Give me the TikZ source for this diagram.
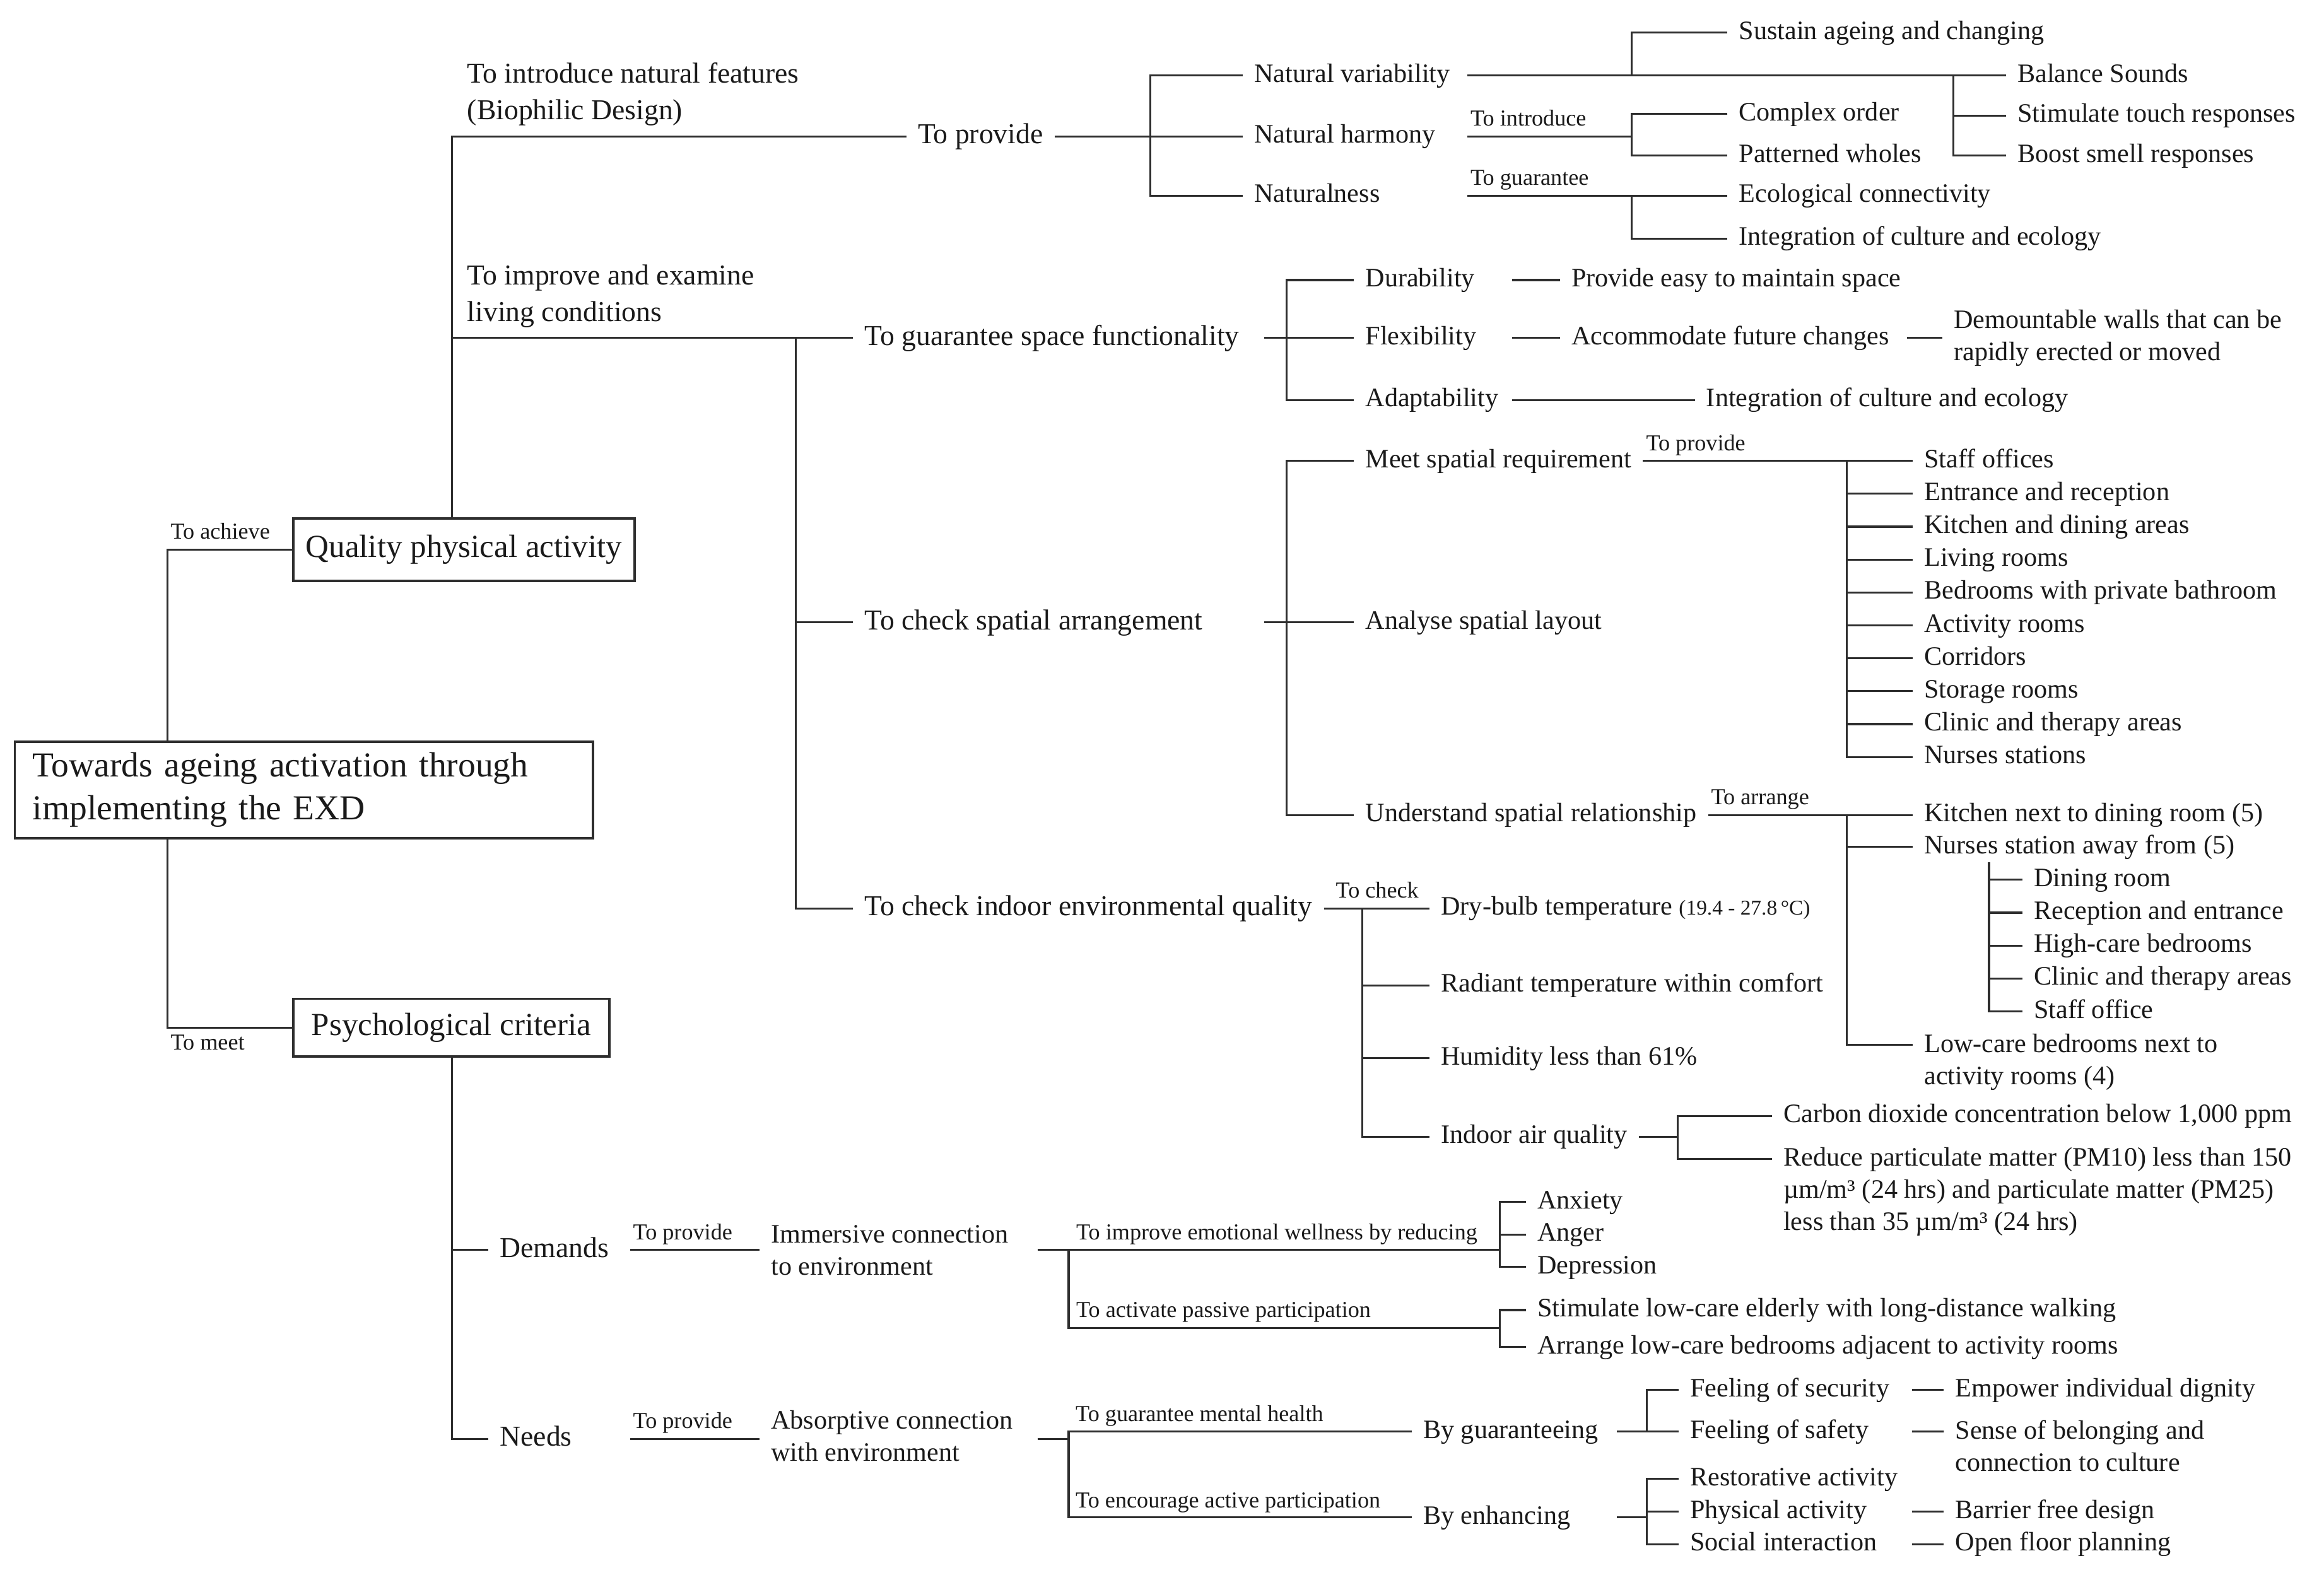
\documentclass[tikz,border=0pt]{standalone}
\usepackage{fontspec}
\setmainfont{Liberation Serif}

\definecolor{ink}{HTML}{1A1A1A}
\definecolor{wire}{HTML}{2E2E2E}

\tikzset{
  item/.style={anchor=west, inner xsep=5pt, xshift=-5pt, inner ysep=1pt,
    text height=8.6pt, text depth=2.6pt, text=ink, font=\fontsize{12}{14.5}\selectfont},
  head/.style={item, text height=9.4pt, text depth=2.8pt, font=\fontsize{13}{16.5}\selectfont},
  tag/.style={anchor=south west, inner xsep=1pt, inner ysep=2pt,
    text height=7.4pt, text depth=2.3pt, text=ink, font=\fontsize{10.3}{12}\selectfont},
  twoline/.style={anchor=west, inner xsep=5pt, xshift=-5pt, inner ysep=0pt, align=left,
    text=ink, font=\fontsize{12}{14.5}\selectfont},
  headtwo/.style={twoline, font=\fontsize{13}{16.5}\selectfont},
  topline/.style={twoline, anchor=north west},
  frame/.style={draw=wire, line width=1.1pt, inner sep=0pt, text=ink},
  link/.style={draw=wire, line width=0.9pt},
}

\begin{document}
\begin{tikzpicture}[x=0.0235cm, y=-0.0235cm]
\useasboundingbox (0,0) rectangle (1568,1066);

% goal and the two criteria
\node[frame, text width=8.601cm, inner xsep=0.282cm, minimum height=1.5275cm, align=left,
  font=\fontsize{15.8}{19.4}\selectfont] (root) at (205,533)
  {Towards ageing activation through\\implementing the EXD};
\node[frame, minimum width=5.405cm, minimum height=0.987cm,
  font=\fontsize{14.5}{17}\selectfont] (qual) at (313,371) {Quality physical activity};
\node[frame, minimum width=5.006cm, minimum height=0.917cm,
  font=\fontsize{14.5}{17}\selectfont] (psy) at (304.5,693.5) {Psychological criteria};

\coordinate (t0) at (113,0);
\draw[link] (t0 |- root.north) |- (qual.west) node[tag, pos=0.5] (ach) {To achieve};
\draw[link] (t0 |- root.south) |- (psy.west) node[tag, pos=0.5, anchor=north west] (met) {To meet};

% quality physical activity
\coordinate (t1) at (305,0);
\coordinate (t2) at (537,0);
\node[headtwo] (nat) at (315,63.5) {To introduce natural features\\(Biophilic Design)};
\node[headtwo] (liv) at (315,200) {To improve and examine\\living conditions};
\node[head] (prov) at (619,92) {To provide};
\node[head] (gsf) at (583,228) {To guarantee space functionality};
\node[head] (csa) at (583,420) {To check spatial arrangement};
\node[head] (ciq) at (583,613) {To check indoor environmental quality};
\draw[link] (t1 |- qual.north) |- (prov.west);
\draw[link] (t1 |- gsf.west) -- (gsf.west);
\draw[link] (t2 |- gsf.west) |- (ciq.west);
\draw[link] (t2 |- csa.west) -- (csa.west);

% biophilic design
\coordinate (t3) at (776,0);
\coordinate (t4) at (990,0);
\coordinate (t5) at (1101,0);
\coordinate (t6) at (1318,0);
\node[item] (nv) at (846,51) {Natural variability};
\node[item] (nh) at (846,92) {Natural harmony};
\node[item] (nn) at (846,132) {Naturalness};
\draw[link] (prov.east) -- (nh.west);
\draw[link] (nv.west) -| (t3 |- nn.west) -- (nn.west);

\node[item] (sus) at (1173,22) {Sustain ageing and changing};
\node[item] (bal) at (1361,51) {Balance Sounds};
\node[item] (stim) at (1361,78) {Stimulate touch responses};
\node[item] (boost) at (1361,105) {Boost smell responses};
\draw[link] (t4 |- nv.east) -- (bal.west);
\draw[link] (t5 |- nv.east) |- (sus.west);
\draw[link] (t6 |- bal.west) |- (boost.west);
\draw[link] (t6 |- stim.west) -- (stim.west);

\node[item] (co) at (1173,77) {Complex order};
\node[item] (pw) at (1173,105) {Patterned wholes};
\draw[link] (t4 |- nh.east) -- (t5 |- nh.east) node[tag, pos=0] (intro) {To introduce};
\draw[link] (co.west) -| (t5 |- pw.west) -- (pw.west);

\node[item] (eco) at (1173,132) {Ecological connectivity};
\node[item] (icul) at (1173,161) {Integration of culture and ecology};
\draw[link] (t4 |- nn.east) -- (eco.west) node[tag, pos=0] (guar) {To guarantee};
\draw[link] (t5 |- eco.west) |- (icul.west);

% space functionality
\coordinate (t7) at (853,0);
\coordinate (t8) at (868,0);
\coordinate (t9) at (1020,0);
\node[item] (dur) at (921,189) {Durability};
\node[item] (flex) at (921,228) {Flexibility};
\node[item] (adap) at (921,270) {Adaptability};
\draw[link] (t7 |- gsf.east) -- (flex.west);
\draw[link] (dur.west) -| (t8 |- adap.west) -- (adap.west);
\node[item] (easy) at (1060,189) {Provide easy to maintain space};
\node[item] (acc) at (1060,228) {Accommodate future changes};
\node[twoline] (walls) at (1318,228) {Demountable walls that can be\\rapidly erected or moved};
\node[item] (icul2) at (1151,270) {Integration of culture and ecology};
\draw[link] (t9 |- dur.east) -- (easy.west);
\draw[link] (t9 |- flex.east) -- (acc.west);
\draw[link, shorten <=3pt] (acc.east) -- (walls.west);
\draw[link] (t9 |- adap.east) -- (icul2.west);

% spatial arrangement
\coordinate (t10) at (1246,0);
\coordinate (t11) at (1342,0);
\node[item] (msr) at (921,311) {Meet spatial requirement};
\node[item] (lay) at (921,420) {Analyse spatial layout};
\node[item] (usr) at (921,550) {Understand spatial relationship};
\draw[link] (t7 |- csa.east) -- (lay.west);
\draw[link] (msr.west) -| (t8 |- usr.west) -- (usr.west);

\foreach \txt [count=\i from 0] in {Staff offices,Entrance and reception,%
  Kitchen and dining areas,Living rooms,Bedrooms with private bathroom,%
  Activity rooms,Corridors,Storage rooms,Clinic and therapy areas,Nurses stations}
  \node[item] (sp\i) at (1298,{311+22.2*\i}) {\txt};
\draw[link] (msr.east) -- (sp0.west) node[tag, pos=0] (pv2) {To provide};
\draw[link] (t10 |- sp0.west) |- (sp9.west);
\foreach \i in {1,...,8}
  \draw[link] (t10 |- sp\i.west) -- (sp\i.west);

\node[item] (kit) at (1298,550) {Kitchen next to dining room (5)};
\node[item] (nsa) at (1298,571.5) {Nurses station away from (5)};
\node[topline] (low) at (1298,697.2) {Low-care bedrooms next to\\activity rooms (4)};
\coordinate (low1) at ([yshift=-5.2pt]low.north west);
\draw[link] (usr.east) -- (kit.west) node[tag, pos=0] (arr) {To arrange};
\draw[link] (t10 |- kit.west) |- (low1);
\draw[link] (t10 |- nsa.west) -- (nsa.west);

\foreach \txt [count=\i] in {Dining room,Reception and entrance,High-care bedrooms,%
  Clinic and therapy areas,Staff office}
  \node[item] (aw\i) at (1372,{571.5+22.2*\i}) {\txt};
\draw[link] (t11 |- nsa.south) |- (aw5.west);
\foreach \i in {1,...,4}
  \draw[link] (t11 |- aw\i.west) -- (aw\i.west);

% indoor environmental quality
\coordinate (t12) at (919,0);
\coordinate (t13) at (1132,0);
\node[item] (dry) at (972,613) {Dry-bulb temperature {\fontsize{9.5}{11}\selectfont(19.4 - 27.8\,°C)}};
\node[item] (rad) at (972,665) {Radiant temperature within comfort};
\node[item] (hum) at (972,714) {Humidity less than 61\%};
\node[item] (iaq) at (972,767) {Indoor air quality};
\draw[link] (ciq.east) -- (dry.west) node[tag, pos=0, xshift=4pt] (chk) {To check};
\draw[link] (t12 |- dry.west) |- (iaq.west);
\foreach \n in {rad,hum}
  \draw[link] (t12 |- \n.west) -- (\n.west);

\node[item] (co2) at (1203,753) {Carbon dioxide concentration below 1,000 ppm};
\node[topline] (pm) at (1203,774.2) {Reduce particulate matter (PM10) less than 150\\µm/m³ (24 hrs) and particulate matter (PM25)\\less than 35 µm/m³ (24 hrs)};
\coordinate (pm1) at ([yshift=-5.2pt]pm.north west);
\draw[link] (iaq.east) -- (t13 |- iaq.east);
\draw[link] (co2.west) -| (t13 |- pm1) -- (pm1);

% psychological criteria
\coordinate (t14) at (425,0);
\coordinate (t15) at (700,0);
\coordinate (t16) at (721,0);
\coordinate (t17) at (1012,0);
\node[head] (dem) at (337,843.5) {Demands};
\node[head] (need) at (337,971) {Needs};
\draw[link] (t1 |- psy.south) |- (need.west);
\draw[link] (t1 |- dem.west) -- (dem.west);
\node[twoline] (imm) at (520,843.5) {Immersive connection\\to environment};
\node[twoline] (abso) at (520,969) {Absorptive connection\\with environment};
\draw[link] (t14 |- dem.east) -- (imm.west) node[tag, pos=0] (pv3) {To provide};
\draw[link] (t14 |- need.east) -- (need.east -| abso.west) node[tag, pos=0] (pv4) {To provide};

% demands
\coordinate (pj) at (1012,896);
\draw[link] (t15 |- imm.east) -- (t16 |- imm.east)
  node[tag, xshift=2pt] (emo) {To improve emotional wellness by reducing} -- (t17 |- imm.east);
\draw[link] (t16 |- imm.east) |- (pj) node[tag, pos=0.5, xshift=2pt] (pas) {To activate passive participation};
\node[item] (anx) at (1037,811) {Anxiety};
\node[item] (ang) at (1037,833) {Anger};
\node[item] (dep) at (1037,855) {Depression};
\draw[link] (anx.west) -| (t17 |- dep.west) -- (dep.west);
\draw[link] (t17 |- ang.west) -- (ang.west);
\node[item] (walk) at (1037,884) {Stimulate low-care elderly with long-distance walking};
\node[item] (adj) at (1037,909) {Arrange low-care bedrooms adjacent to activity rooms};
\draw[link] (walk.west) -| (t17 |- adj.west) -- (adj.west);

% needs
\coordinate (t18) at (1091,0);
\coordinate (t19) at (1111,0);
\coordinate (t20) at (1290,0);
\node[item] (byg) at (960,966) {By guaranteeing};
\node[item] (bye) at (960,1024) {By enhancing};
\draw[link] (t15 |- need.east) -- (t16 |- need.east);
\draw[link] (byg.west) -| (t16 |- bye.west) -- (bye.west);
\node[tag, xshift=2pt] (mh) at (t16 |- byg.west) {To guarantee mental health};
\node[tag, xshift=2pt] (enc) at (t16 |- bye.west) {To encourage active participation};

\node[item] (fsec) at (1140,938) {Feeling of security};
\node[item] (fsaf) at (1140,966) {Feeling of safety};
\draw[link] (t18 |- byg.east) -- (fsaf.west);
\draw[link] (t19 |- fsaf.west) |- (fsec.west);
\node[item] (dign) at (1319,938) {Empower individual dignity};
\node[topline] (belong) at (1319,958.2) {Sense of belonging and\\connection to culture};
\coordinate (bel1) at ([yshift=-5.2pt]belong.north west);
\draw[link] (t20 |- fsec.east) -- (dign.west);
\draw[link] (t20 |- fsaf.east) -- (bel1);

\node[item] (rest) at (1140,998) {Restorative activity};
\node[item] (phys) at (1140,1020) {Physical activity};
\node[item] (soc) at (1140,1042) {Social interaction};
\draw[link] (t18 |- bye.east) -- (t19 |- bye.east);
\draw[link] (rest.west) -| (t19 |- soc.west) -- (soc.west);
\draw[link] (t19 |- phys.west) -- (phys.west);
\node[item] (barr) at (1319,1020) {Barrier free design};
\node[item] (open) at (1319,1042) {Open floor planning};
\draw[link] (t20 |- phys.east) -- (barr.west);
\draw[link] (t20 |- soc.east) -- (open.west);
\end{tikzpicture}
\end{document}
